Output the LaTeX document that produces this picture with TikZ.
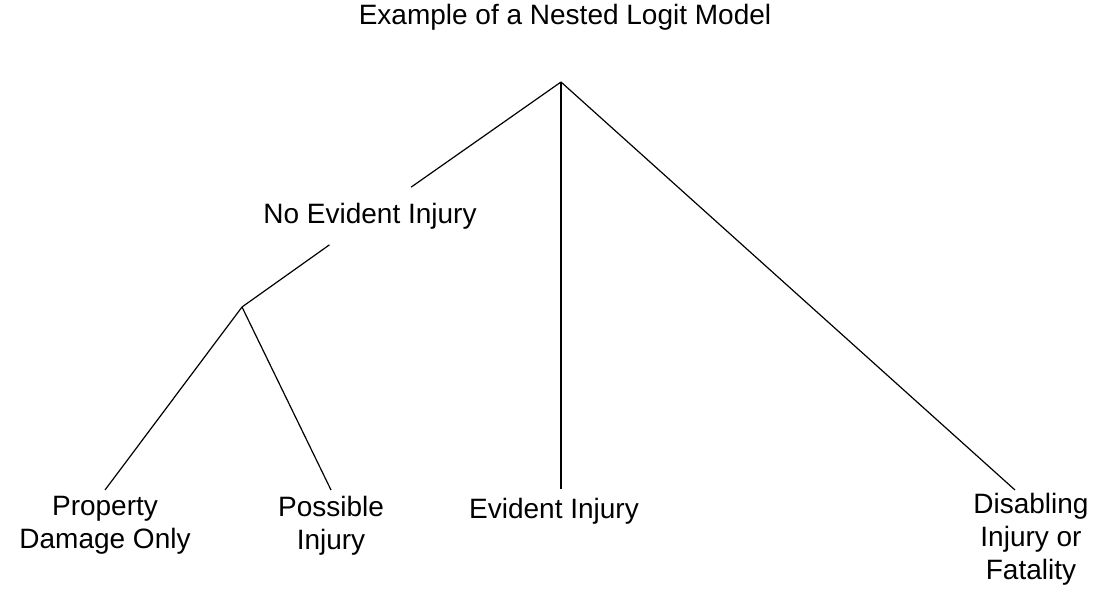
\documentclass[tikz,border=0pt]{standalone}
\usepackage{fontspec}
\setmainfont{Liberation Sans}

\tikzset{
	branch/.style={line width=0.6pt},
	lbl/.style={font=\fontsize{14}{16.5}\selectfont, align=center, inner sep=3pt},
	leaf/.style={lbl, anchor=north},
}

\begin{document}
\begin{tikzpicture}[x=0.5pt, y=-0.5pt]
		%%%%% START %%%%%
		
		\useasboundingbox (0, 0) rectangle (1110, 593);
		
		\node[lbl] (title) at (565, 17) {Example of a Nested Logit Model};
		
		\coordinate (root) at (561, 82);
		\node[lbl, inner ysep=7.7pt] (noinj) at (370, 216) {No Evident Injury};
		\coordinate (fork) at (242, 307);
		
		\node[leaf] (prop) at (105, 490) {Property\\Damage Only};
		\node[leaf] (poss) at (331, 490) {Possible\\Injury};
		\node[leaf, inner ysep=4.5pt] (evid) at (554, 489) {Evident Injury};
		\node[leaf, inner ysep=1.5pt] (disab) at (1031, 490) {Disabling\\Injury or\\Fatality};
		
		\draw[branch] (root) -- (noinj);
		\draw[branch] (noinj) -- (fork);
		\draw[branch] (fork) -- (prop.north);
		\draw[branch] (fork) -- (poss.north);
		\draw[branch] (root) -- ([xshift=3.5pt]evid.north);
		\draw[branch] (root) -- ([xshift=-8pt]disab.north);
		
		%%%%% END %%%%%
	\end{tikzpicture}
\end{document}
